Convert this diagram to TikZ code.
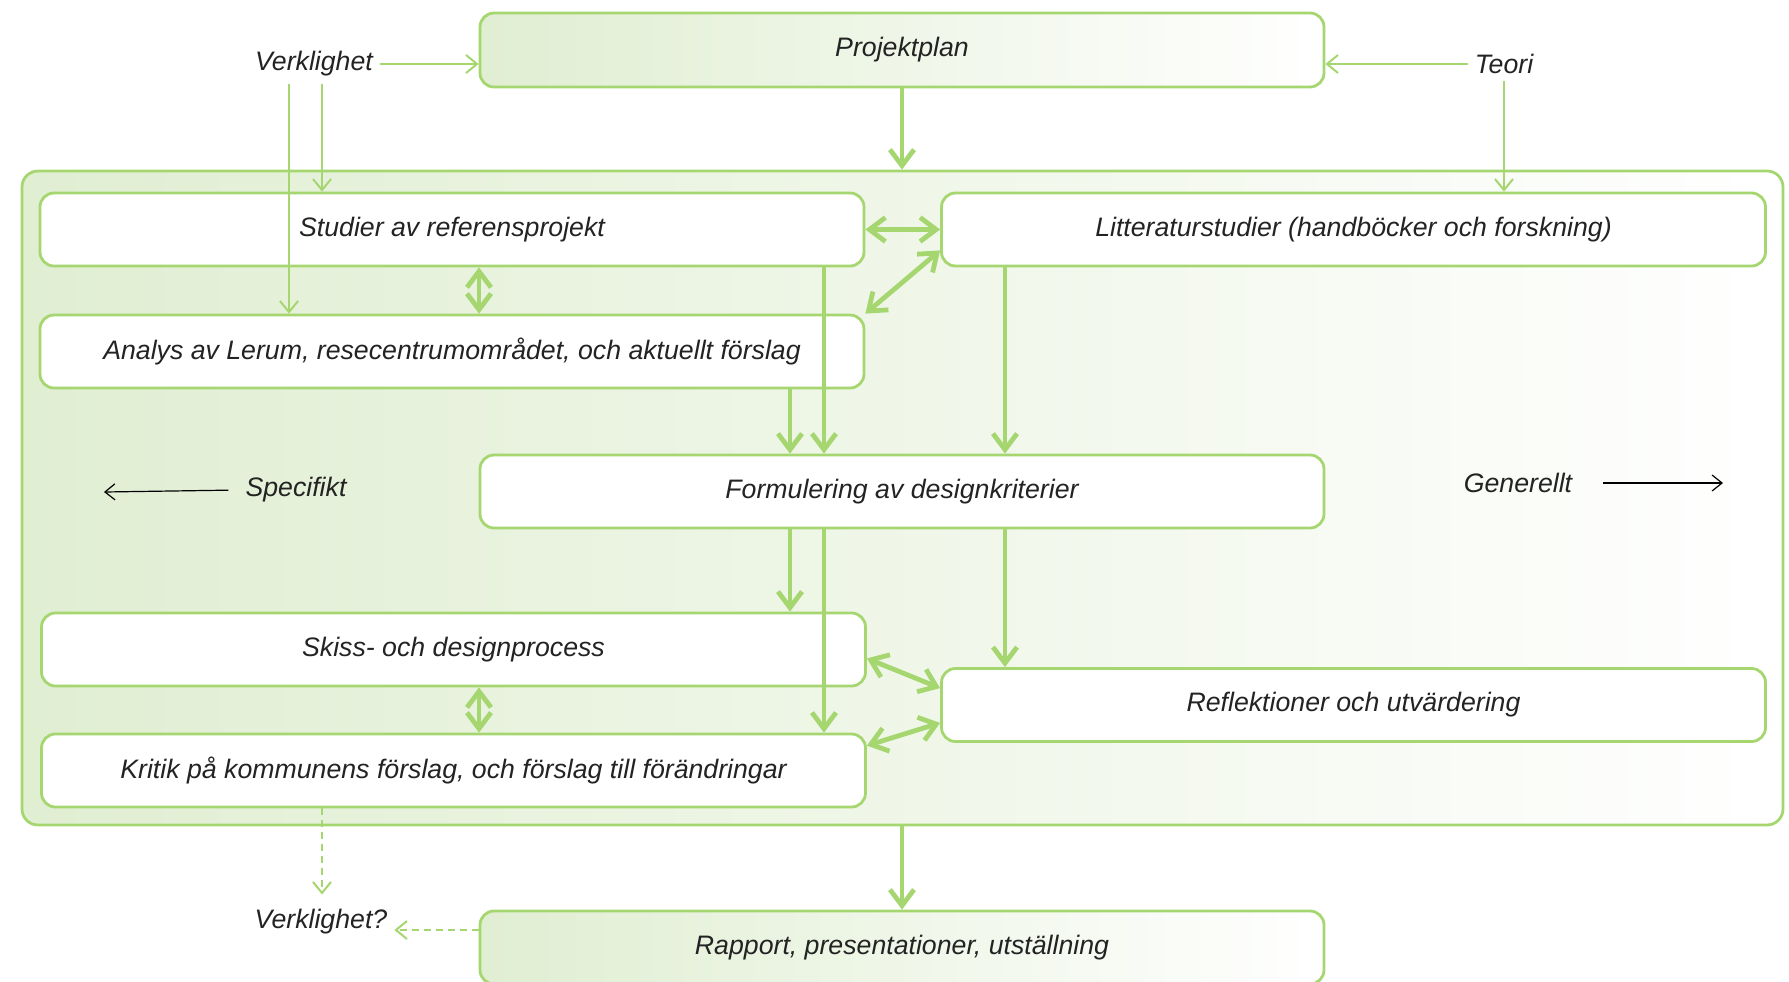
\documentclass[tikz,border=0pt]{standalone}
\usepackage{fontspec}
\setmainfont{Liberation Sans}
\usetikzlibrary{arrows.meta}

\definecolor{lgreen}{RGB}{166,214,112}
\definecolor{pale}{RGB}{224,238,210}
\definecolor{txt}{RGB}{35,35,35}

\begin{document}
\begin{tikzpicture}[x=0.5pt,y=-0.5pt,
	box/.style={draw=lgreen,line width=1.4pt,rounded corners=7pt,fill=white,minimum width=412pt,minimum height=36.5pt,font=\fontsize{13.35}{15}\selectfont\itshape,text=txt},
	shadebox/.style={box,left color=pale,right color=white},
	lbl/.style={font=\fontsize{13.35}{15}\selectfont\itshape,text=txt},
	big/.style={draw=lgreen,line width=2.4pt,arrows={-Straight Barb[length=8pt,width=12pt]}},
	bigboth/.style={big,arrows={Straight Barb[length=8pt,width=12pt]-Straight Barb[length=8pt,width=12pt]}},
	thin/.style={draw=lgreen,line width=1pt,arrows={-Straight Barb[length=5.5pt,width=9pt]}},
	dashy/.style={thin,dash pattern=on 3.5pt off 2.5pt},
	side/.style={draw=black,line width=0.6pt,arrows={-Straight Barb[length=5pt,width=8pt]}}]
			\useasboundingbox (0,0) rectangle (1789,981);
			\node[shadebox,minimum width=880.5pt,minimum height=327pt,rounded corners=8pt] (frame) at (902.5,498) {};
			\node[shadebox,minimum width=422pt,minimum height=37pt] (plan) at (902,50) {Projektplan};
			\node[box] (ref) at (452,229.5) {Studier av referensprojekt};
			\node[box] (litt) at (1353.5,229.5) {Litteraturstudier (handböcker och forskning)};
			\node[box] (lerum) at (452,351.5) {Analys av Lerum, resecentrumområdet, och aktuellt förslag};
			\node[box,minimum width=422pt] (krit) at (902,491.5) {Formulering av designkriterier};
			\node[box] (skiss) at (453.5,649.5) {Skiss- och designprocess};
			\node[box] (kritik) at (453.5,770.5) {Kritik på kommunens förslag, och förslag till förändringar};
			\node[box] (refl) at (1353.5,705) {Reflektioner och utvärdering};
			\node[shadebox,minimum width=422pt] (rapport) at (902,947.5) {Rapport, presentationer, utställning};

			\node[lbl] (verk) at (314,64) {Verklighet};
			\node[lbl] (teori) at (1504,64) {Teori};
			\node[lbl] (spec) at (296,490) {Specifikt};
			\node[lbl] (gen) at (1518,483) {Generellt};
			\node[lbl] (verkq) at (321,922) {Verklighet?};

			\coordinate (specend) at (104,492);
			\coordinate (genend) at (1723,483);
			\coordinate (c1) at (289,0);
			\coordinate (c2) at (322,0);
			\coordinate (c3) at (479,0);
			\coordinate (c4) at (790,0);
			\coordinate (c5) at (824,0);
			\coordinate (c6) at (1005,0);

			\draw[thin] (verk.east) -- (verk.east -| plan.west);
			\draw[thin] (teori.west) -- (teori.west -| plan.east);
			\draw[thin] (verk.south -| c1) -- (lerum.north -| c1);
			\draw[thin] (verk.south -| c2) -- (ref.north -| c2);
			\draw[thin] (teori.south) -- (teori.south |- litt.north);

			\draw[big] (plan.south) -- (plan.south |- frame.north);
			\draw[bigboth] (ref.east) -- (litt.west);
			\draw[bigboth] ([yshift=8.5pt]litt.south west) -- (lerum.north east);
			\draw[bigboth] (ref.south -| c3) -- (lerum.north -| c3);
			\draw[big] (ref.south -| c5) -- (krit.north -| c5);
			\draw[big] (lerum.south -| c4) -- (krit.north -| c4);
			\draw[big] (litt.south -| c6) -- (krit.north -| c6);
			\draw[big] (krit.south -| c4) -- (skiss.north -| c4);
			\draw[big] (krit.south -| c5) -- (kritik.north -| c5);
			\draw[big] (krit.south -| c6) -- (refl.north -| c6);
			\draw[bigboth] ([yshift=14.5pt]skiss.south east) -- ([yshift=-10.5pt]refl.north west);
			\draw[bigboth] ([yshift=-6.5pt]kritik.north east) -- ([yshift=10pt]refl.south west);
			\draw[bigboth] (skiss.south -| c3) -- (kritik.north -| c3);
			\draw[big] (rapport.north |- frame.south) -- (rapport.north);

			\draw[dashy,shorten >=4pt] (kritik.south -| c2) -- (verkq.north -| c2);
			\draw[dashy] ([yshift=-4pt]verkq.east -| rapport.west) -- ([yshift=-4pt]verkq.east);
			\draw[side,shorten <=5pt] (spec.west) -- (specend);
			\draw[side,shorten <=12pt] (gen.east) -- (genend);
\end{tikzpicture}
\end{document}
